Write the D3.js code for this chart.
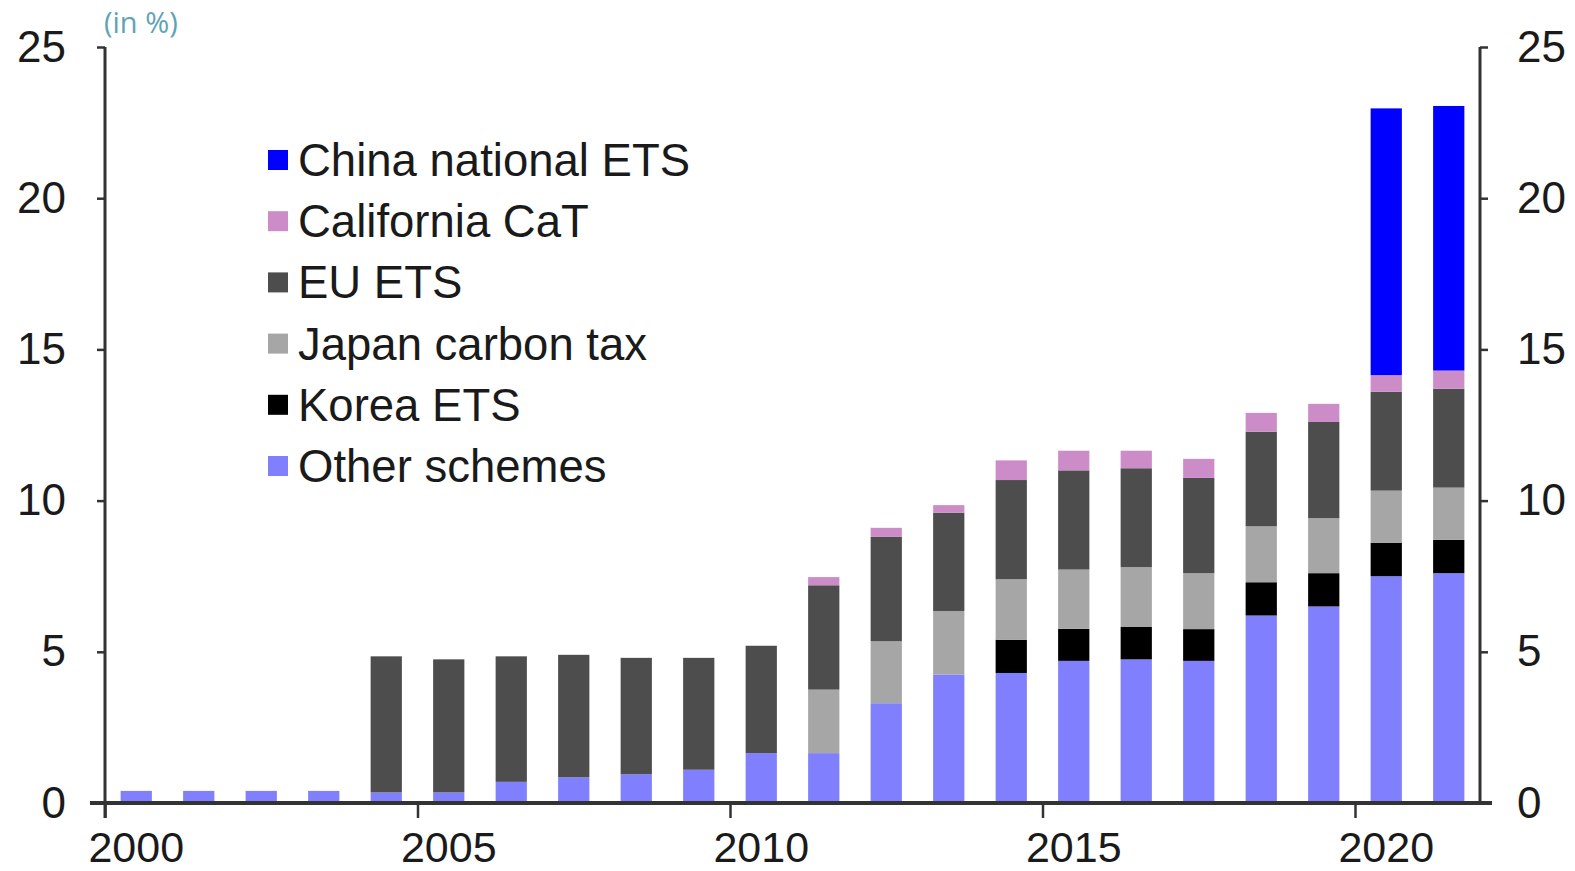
<!DOCTYPE html>
<html>
<head>
<meta charset="utf-8">
<script src="https://cdn.jsdelivr.net/npm/d3@7"></script>
<style>
  html, body { margin: 0; padding: 0; background: #ffffff; }
  svg { display: block; font-family: "Liberation Sans", Arial, sans-serif; }
</style>
</head>
<body>
<svg id="chart" width="1575" height="871"></svg>
<script>
// Share of emissions covered by carbon pricing schemes, stacked by scheme (in %)
const years = d3.range(2000, 2022);
const xTickYears = [2000, 2005, 2010, 2015, 2020];
const yTicks = [0, 5, 10, 15, 20, 25];

const otherSchemes = [0.4, 0.4, 0.4, 0.4, 0.35, 0.35, 0.7, 0.85, 0.95, 1.1, 1.65, 1.65, 3.3, 4.25, 4.3, 4.7, 4.75, 4.7, 6.2, 6.5, 7.5, 7.6];
const koreaETS     = [0, 0, 0, 0, 0, 0, 0, 0, 0, 0, 0, 0, 0, 0, 1.1, 1.06, 1.07, 1.05, 1.1, 1.1, 1.1, 1.1];
const japanTax     = [0, 0, 0, 0, 0, 0, 0, 0, 0, 0, 0, 2.1, 2.05, 2.1, 2.0, 1.96, 1.98, 1.85, 1.85, 1.82, 1.73, 1.73];
const euETS        = [0, 0, 0, 0, 4.5, 4.4, 4.15, 4.05, 3.85, 3.7, 3.55, 3.45, 3.45, 3.25, 3.28, 3.28, 3.27, 3.15, 3.13, 3.18, 3.27, 3.27];
const californiaCaT= [0, 0, 0, 0, 0, 0, 0, 0, 0, 0, 0, 0.27, 0.3, 0.25, 0.65, 0.65, 0.58, 0.63, 0.62, 0.6, 0.55, 0.6];
const chinaETS     = [0, 0, 0, 0, 0, 0, 0, 0, 0, 0, 0, 0, 0, 0, 0, 0, 0, 0, 0, 0, 8.82, 8.75];

// stacking order, bottom to top
const seriesKeys = ["Other schemes", "Korea ETS", "Japan carbon tax", "EU ETS", "California CaT", "China national ETS"];
const seriesValues = [otherSchemes, koreaETS, japanTax, euETS, californiaCaT, chinaETS];
const seriesColors = ["#8080ff", "#000000", "#a6a6a6", "#4d4d4d", "#cc8cc8", "#0000ff"];
// legend lists the schemes top to bottom
const legendKeys = ["China national ETS", "California CaT", "EU ETS", "Japan carbon tax", "Korea ETS", "Other schemes"];

const rows = years.map((yr, i) => {
  const r = { year: yr };
  seriesKeys.forEach((k, j) => { r[k] = seriesValues[j][i]; });
  return r;
});

const svg = d3.select("#chart");
const plotLeft = 105, plotRight = 1480, plotTop = 47, plotBottom = 803;

const x = d3.scaleBand().domain(years).range([plotLeft, plotRight]).paddingInner(0.5).paddingOuter(0.25);
const xEdge = d3.scaleLinear().domain([2000, 2022]).range([plotLeft, plotRight]);
const y = d3.scaleLinear().domain([0, 25]).range([plotBottom, plotTop]);
const color = d3.scaleOrdinal().domain(seriesKeys).range(seriesColors);

const stacked = d3.stack().keys(seriesKeys)(rows);

// bars
svg.append("g")
  .selectAll("g")
  .data(stacked)
  .join("g")
    .attr("fill", d => color(d.key))
  .selectAll("rect")
  .data(d => d.filter(p => p[1] - p[0] > 0))
  .join("rect")
    .attr("x", d => x(d.data.year))
    .attr("width", x.bandwidth())
    .attr("y", d => y(d[1]))
    .attr("height", d => y(d[0]) - y(d[1]));

const axisColor = "#333333";
const fontSize = 44;

// left and right value axes
const gLeft = svg.append("g")
  .attr("transform", `translate(${plotLeft},0)`)
  .call(d3.axisLeft(y).tickValues(yTicks).tickSize(8).tickPadding(31).tickFormat(d3.format("d")));
const gRight = svg.append("g")
  .attr("transform", `translate(${plotRight},0)`)
  .call(d3.axisRight(y).tickValues(yTicks).tickSize(8).tickPadding(29).tickFormat(d3.format("d")));

[gLeft, gRight].forEach(g => {
  g.select(".domain").remove();
  g.selectAll(".tick line").attr("stroke", axisColor).attr("stroke-width", 2.5);
  g.selectAll(".tick text").attr("fill", "#1a1a1a").style("font-size", fontSize + "px");
});
svg.append("line").attr("x1", plotLeft).attr("x2", plotLeft).attr("y1", y(25)).attr("y2", plotBottom + 15)
  .attr("stroke", axisColor).attr("stroke-width", 3);
svg.append("line").attr("x1", plotRight).attr("x2", plotRight).attr("y1", y(25)).attr("y2", plotBottom)
  .attr("stroke", axisColor).attr("stroke-width", 3);

// bottom tick marks at year boundaries
const gTicks = svg.append("g")
  .attr("transform", `translate(0,${plotBottom})`)
  .call(d3.axisBottom(xEdge).tickValues(xTickYears).tickSize(15).tickFormat(""));
gTicks.select(".domain").remove();
gTicks.selectAll(".tick line").attr("stroke", axisColor).attr("stroke-width", 2.5);

// bottom labels centred on the year bars
const gBottom = svg.append("g")
  .attr("transform", `translate(0,${plotBottom})`)
  .call(d3.axisBottom(x).tickValues(xTickYears).tickSize(0).tickPadding(28));
gBottom.select(".domain").remove();
gBottom.selectAll(".tick text").attr("fill", "#1a1a1a").style("font-size", "43px");

// baseline
svg.append("line").attr("x1", 90).attr("x2", 1492).attr("y1", plotBottom).attr("y2", plotBottom)
  .attr("stroke", axisColor).attr("stroke-width", 4);

// unit note
svg.append("text")
  .attr("x", 104).attr("y", 33)
  .attr("fill", "#5ea3b6")
  .style("font-family", "'Open Sans', 'Noto Sans', sans-serif")
  .style("font-size", "29px")
  .text("(in %)");

// legend
const legendY = d3.scalePoint().domain(legendKeys).range([160, 466]);
const legend = svg.append("g");
const items = legend.selectAll("g")
  .data(legendKeys)
  .join("g")
    .attr("transform", d => `translate(268,${legendY(d)})`);
items.append("rect")
  .attr("x", 0).attr("y", -10).attr("width", 20).attr("height", 20)
  .attr("fill", d => color(d));
items.append("text")
  .attr("x", 30).attr("y", 0).attr("dy", "0.35em")
  .attr("fill", "#1a1a1a")
  .style("font-size", "45.5px")
  .text(d => d);
</script>
</body>
</html>
